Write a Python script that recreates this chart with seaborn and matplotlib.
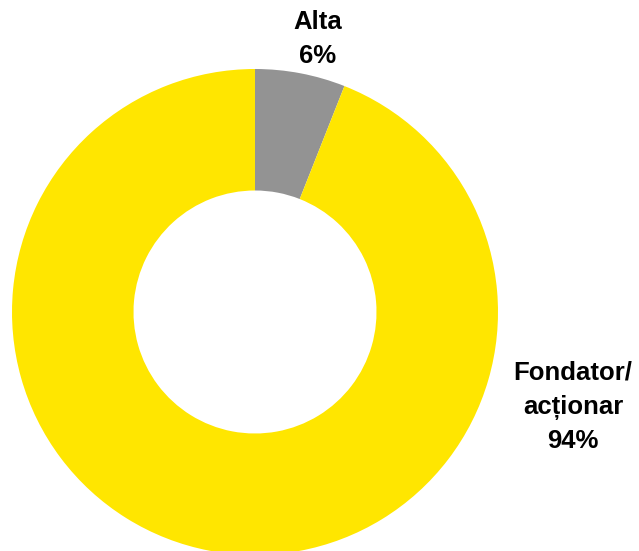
import matplotlib.pyplot as plt
import seaborn as sns

categories = ['Alta', 'Fondator/\nacționar']
shares = [6, 94]
colors = ['#939393', '#FFE600']

sns.set_theme(style='white')
plt.rcParams['font.family'] = ['Liberation Sans', 'DejaVu Sans']

fig = plt.figure(figsize=(6.39, 5.51), dpi=100)
ax = fig.add_axes([0, 0, 1, 1])

cx, cy, r = 255, 239, 243
ax.pie(shares, colors=colors, startangle=90, counterclock=False,
       center=(cx, cy), radius=r, frame=True,
       wedgeprops=dict(width=r * 0.5, linewidth=0))
ax.set_xlim(0, 639)
ax.set_ylim(0, 551)
ax.axis('off')

# label block centres, in pixels from bottom-left
label_pos = [(318, 512), (573, 144)]
for cat, val, (x, y) in zip(categories, shares, label_pos):
    ax.text(x, y, f'{cat}\n{val}%', ha='center', va='center',
            fontsize=18.5, fontweight='bold', linespacing=1.5, color='black')

fig.savefig('out.png', dpi=100)
